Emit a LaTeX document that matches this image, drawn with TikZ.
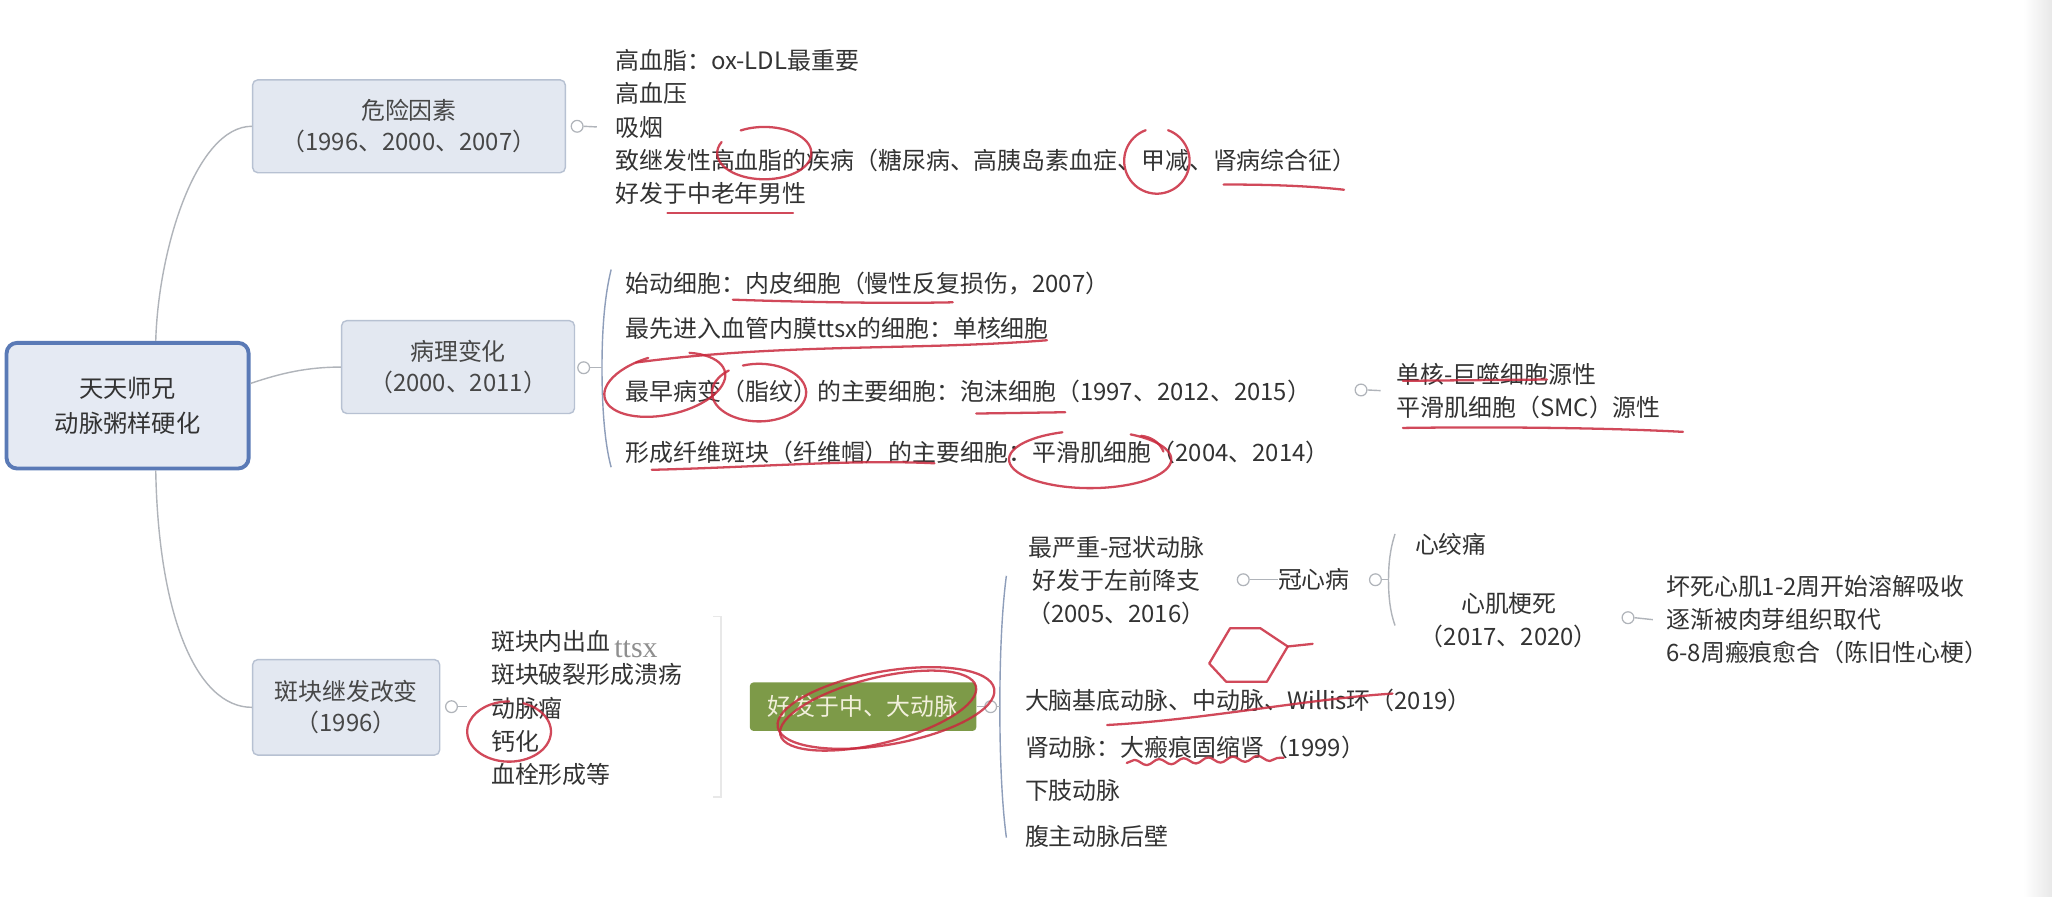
\documentclass[tikz,border=0pt]{standalone}
\usepackage{fontspec}
\setmainfont{Noto Sans CJK SC}
\newfontfamily\hwfont{Liberation Serif}
\usetikzlibrary{calc,decorations.pathmorphing}
\newlength\upx
\setlength\upx{0.026174cm}
\definecolor{txt}{HTML}{333333}
\definecolor{boxfill}{HTML}{E3E8F1}
\definecolor{boxline}{HTML}{B7C1D2}
\definecolor{mainline}{HTML}{5A7AB6}
\definecolor{mainfill}{HTML}{E5EAF3}
\definecolor{conn}{HTML}{B0B4BA}
\definecolor{brk}{HTML}{8E9EBA}
\definecolor{topicgreen}{HTML}{7D9A48}
\definecolor{gtext}{HTML}{F2F0DC}
\definecolor{pen}{HTML}{C92A3E}
\begin{document}
\begin{tikzpicture}[x=0.026174cm, y=-0.026174cm,
  txtfont/.style={font=\fontsize{13.6}{18.8}\selectfont},
  subbox/.style={draw=boxline, fill=boxfill, rounded corners=3pt, line width=0.8pt,
    align=center, text=txt!90, inner sep=0pt, font=\fontsize{13.6}{17.5}\selectfont},
  mainbox/.style={draw=mainline, fill=mainfill, rounded corners=6pt, line width=2.2pt,
    align=center, text=txt, inner sep=0pt, font=\fontsize{13.8}{19.5}\selectfont},
  greenbox/.style={fill=topicgreen, rounded corners=2pt, text=gtext, inner sep=0pt,
    font=\fontsize{13.6}{18}\selectfont},
  leaf/.style={txtfont, text=txt, inner sep=0pt, align=left, anchor=west},
  cleaf/.style={txtfont, text=txt, inner sep=0pt, align=center},
  edge/.style={draw=conn, line width=0.8pt},
  brk/.style={draw=brk, line width=0.8pt},
  knob/.style={circle, draw=conn, fill=white, line width=0.7pt, inner sep=0pt, minimum size=9\upx},
  pen/.style={draw=pen, line width=1.3pt, line cap=round, line join=round, opacity=0.85}]
\useasboundingbox (0,0) rectangle (1568,685);
\fill[white] (0,0) rectangle (1568,685);
\shade[left color=white, right color=black!9] (1546,0) rectangle (1568,685);

% main and branch boxes
\node[mainbox, minimum width=185\upx, minimum height=96\upx] (main) at (97.5,310) {天天师兄\\动脉粥样硬化};
\node[subbox, minimum width=239\upx, minimum height=71\upx] (risk) at (312.5,96.5) {危险因素\\（1996、2000、2007）};
\node[subbox, minimum width=178\upx, minimum height=71\upx] (path) at (350,280.5) {病理变化\\（2000、2011）};
\node[subbox, minimum width=143\upx, minimum height=73\upx] (plaque) at (264.5,540.5) {斑块继发改变\\（1996）};
\node[greenbox, minimum width=173\upx, minimum height=37\upx] (big) at (659.5,540) {好发于中、大动脉};

% main connectors
\draw[edge] ($(main.north)+(21.5,0)$) .. controls (121,190) and (150,96.5) .. (risk.west);
\draw[edge] ($(main.east)+(0,-17)$) .. controls (215,285) and (235,280.5) .. (path.west);
\draw[edge] ($(main.south)+(21.5,0)$) .. controls (121,470) and (150,540.5) .. (plaque.west);

% risk factors
\node[leaf] (riskL) at (470,97) {高血脂：ox-LDL最重要\\高血压\\吸烟\\致继发性高血脂的疾病（糖尿病、高胰岛素血症、甲减、肾病综合征）\\好发于中老年男性};
\node[knob] (k1) at (441,96.5) {};
\draw[edge] (k1.east) -- ($(riskL.west)+(-14,0)$);

% pathology
\node[knob] (k2) at (446,281) {};
\coordinate (b2t) at (467,206);
\coordinate (b2m) at (460,281);
\coordinate (b2b) at (467,357);
\draw[brk] (b2t) .. controls (461,230) and (460,260) .. (b2m) .. controls (460,302) and (461,335) .. (b2b);
\draw[edge] (k2.east) -- (b2m);
\node[leaf] (pl1) at (478,217) {始动细胞：内皮细胞（慢性反复损伤，2007）};
\node[leaf] (pl2) at (478,251) {最先进入血管内膜ttsx的细胞：单核细胞};
\node[leaf] (pl3) at (478,299) {最早病变（脂纹）的主要细胞：泡沫细胞（1997、2012、2015）};
\node[leaf] (pl4) at (478,346) {形成纤维斑块（纤维帽）的主要细胞：平滑肌细胞（2004、2014）};
\node[leaf] (foam) at (1067,298.5) {单核-巨噬细胞源性\\平滑肌细胞（SMC）源性};
\node[knob] (k3) at (1040,298) {};
\draw[edge] (k3.east) -- ($(foam.west)+(-12,0)$);

% plaque secondary changes
\node[knob] (k4) at (345,540) {};
\draw[edge] (k4.east) -- (357,540);
\node[leaf] (plL) at (375,541) {斑块内出血\\斑块破裂形成溃疡\\动脉瘤\\钙化\\血栓形成等};
\node[font=\hwfont\fontsize{17}{17}\selectfont, text=black!55, opacity=0.8, inner sep=0pt] (hw) at (486,496) {ttsx};
\draw[draw=black!9, line width=0.8pt] (545,471) -- (551,471) -- (551,609) -- (545,609);

% large/medium arteries
\node[knob] (k5g) at (757,540) {};
\draw[edge] (big.east) -- (k5g);
\coordinate (gbt) at (769,440);
\coordinate (gbm) at (764,540);
\coordinate (gbb) at (769,640);
\draw[brk] (gbt) .. controls (765,470) and (764,510) .. (gbm) .. controls (764,570) and (765,610) .. (gbb);
\draw[edge] (k5g.east) -- (gbm);
\node[cleaf] (cad) at (853,444) {最严重-冠状动脉\\好发于左前降支\\（2005、2016）};
\node[knob] (k5) at (950,443) {};
\node[cleaf] (chd) at (1004,443) {冠心病};
\draw[edge] (k5.east) -- (chd.west);
\node[knob] (k6) at (1051,443) {};
\coordinate (cbt) at (1066,408);
\coordinate (cbm) at (1061,443);
\coordinate (cbb) at (1066,478);
\draw[draw=conn, line width=0.8pt] (cbt) .. controls (1062,420) and (1061,432) .. (cbm) .. controls (1061,455) and (1062,467) .. (cbb);
\draw[edge] (k6.east) -- (cbm);
\node[leaf] (angina) at (1081,416) {心绞痛};
\node[cleaf] (mi) at (1153,474) {心肌梗死\\（2017、2020）};
\node[knob] (k7) at (1244,472) {};
\node[leaf] (necro) at (1273,473.5) {坏死心肌1-2周开始溶解吸收\\逐渐被肉芽组织取代\\6-8周瘢痕愈合（陈旧性心梗）};
\draw[edge] (k7.east) -- ($(necro.west)+(-10,0)$);
\node[leaf] (brain) at (783,535) {大脑基底动脉、中动脉、Willis环（2019）};
\node[leaf] (kidney) at (783,571) {肾动脉：大瘢痕固缩肾（1999）};
\node[leaf] (leg) at (783,604) {下肢动脉};
\node[leaf] (aorta) at (783,639) {腹主动脉后壁};

% red handwritten annotations
\draw[pen] ($(584,117)+(240:36 and 20)$) arc[start angle=240, end angle=565, x radius=36, y radius=20];
\draw[pen] ($(884,123)+(290:25 and 25)$) arc[start angle=290, end angle=610, x radius=25, y radius=25];
\draw[pen] (935,141) .. controls (970,141) and (1000,142) .. (1027,145);
\draw[pen] (510,163) -- (606,163);
\draw[pen] (560,229) .. controls (620,231) and (680,232) .. (728,231);
\draw[pen] (486,277) .. controls (600,262) and (700,268) .. (800,260);
\begin{scope}[rotate around={12:(508,294)}]
\draw[pen] ($(508,294)+(300:47 and 23)$) arc[start angle=300, end angle=620, x radius=47, y radius=23];
\end{scope}
\draw[pen] ($(580,300)+(250:36 and 22)$) arc[start angle=250, end angle=590, x radius=36, y radius=22];
\draw[pen] (746,316) -- (814,315);
\draw[pen] (498,359) .. controls (580,357) and (650,351) .. (714,354);
\draw[pen] ($(833,351)+(300:62 and 22)$) arc[start angle=300, end angle=610, x radius=62, y radius=22];
\draw[pen] (872,333) .. controls (880,334) and (886,338) .. (889,345);
\draw[pen] (1072,291) -- (1182,290);
\draw[pen] (1072,327) .. controls (1150,326) and (1230,327) .. (1286,330);
\draw[pen] ($(389,559)+(290:32 and 23)$) arc[start angle=290, end angle=630, x radius=32, y radius=23];
\draw[pen, rotate around={10:(677,541)}] (677,541) ellipse [x radius=84, y radius=28];
\draw[pen, rotate around={14:(671,543)}] (671,543) ellipse [x radius=77, y radius=25];
\draw[pen] (940,480) -- (963,480) -- (984,494) -- (968,521) -- (937,521) -- (924,507) -- cycle;
\draw[pen] (984,494) -- (1003,492);
\draw[pen] (846,554) .. controls (920,550) and (1000,534) .. (1064,530);
\draw[pen, decorate, decoration={snake, amplitude=1.6pt, segment length=14pt}] (861,583) -- (981,579);
\end{tikzpicture}
\end{document}
